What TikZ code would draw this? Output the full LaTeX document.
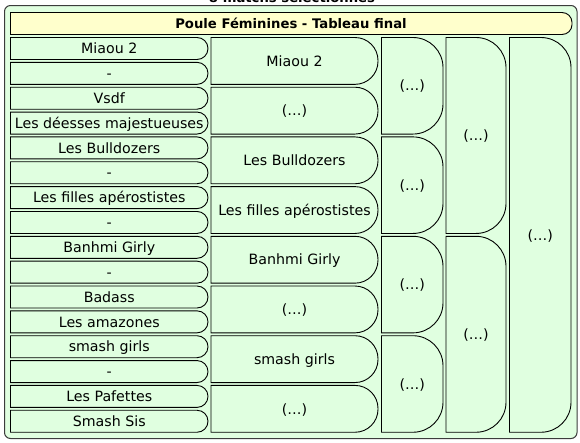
\documentclass[tikz,border=0pt]{standalone}
\usepackage{fontspec}
\setmainfont{DejaVu Sans}
\definecolor{boxgreen}{RGB}{224,255,224}
\definecolor{headyellow}{RGB}{255,255,204}
\definecolor{framegray}{RGB}{60,60,60}
\tikzset{
  boxline/.style={draw=black,line width=0.9pt,fill=boxgreen},
  headline/.style={draw=black,line width=0.9pt,fill=headyellow},
  lbl/.style={inner sep=0pt,anchor=base,font=\fontsize{14.2}{17}\selectfont,text=black},
  hlbl/.style={inner sep=0pt,anchor=base,font=\fontsize{13.2}{16}\selectfont\bfseries,text=black},
}
% #1 name, #2 x1, #3 y1, #4 x2, #5 y2, #6 radius, #7 style, #8 text
\newcommand\rbox[8]{%
  \draw[#7] (#2,#3) -- ({#4-#6},#3) arc[start angle=90,end angle=0,radius=#6pt]
    -- (#4,{#5-#6}) arc[start angle=0,end angle=-90,radius=#6pt] -- (#2,#5) -- cycle;
  \node[lbl] (#1) at ({(#2+#4)/2},{(#3+#5)/2+5.2}) {#8};
}
\begin{document}
\begin{tikzpicture}[x=1pt,y=-1pt]
\useasboundingbox (0,0) rectangle (580,442);
\fill[white] (0,0) rectangle (580,442);
% title, mostly cut off as in the reference
\node[hlbl] (title) at (292,2.5) {8 matchs sélectionnés};
% outer frame
\draw[draw=framegray,line width=1pt,fill=boxgreen,rounded corners=6pt] (4.5,5.5) rectangle (577,438.5);
% header
\draw[headline] (10.5,12.5) -- (562,12.5) arc[start angle=90,end angle=0,radius=10pt]
  -- (572,24.5) arc[start angle=0,end angle=-90,radius=10pt] -- (10.5,34.5) -- cycle;
\node[hlbl] (head) at (291,28.4) {Poule Féminines - Tableau final};
% column 1
\foreach \t [count=\i from 0] in {Miaou 2,-,Vsdf,Les déesses majestueuses,Les Bulldozers,-,Les filles apérostistes,-,Banhmi Girly,-,Badass,Les amazones,smash girls,-,Les Pafettes,Smash Sis}{
  \pgfmathsetmacro\ya{37.5+24.85*\i}
  \pgfmathsetmacro\yb{\ya+22}
  \rbox{a\i}{10.5}{\ya}{208}{\yb}{11}{boxline}{\t}
}
% column 2
\foreach \t [count=\i from 0] in {Miaou 2,(…),Les Bulldozers,Les filles apérostistes,Banhmi Girly,(…),smash girls,(…)}{
  \pgfmathsetmacro\ya{37.5+49.7*\i}
  \pgfmathsetmacro\yb{\ya+46.85}
  \rbox{b\i}{211}{\ya}{378}{\yb}{23}{boxline}{\t}
}
% column 3
\foreach \i in {0,...,3}{
  \pgfmathsetmacro\ya{37.5+99.4*\i}
  \pgfmathsetmacro\yb{\ya+96.55}
  \rbox{c\i}{381.5}{\ya}{443}{\yb}{30}{boxline}{(…)}
}
% column 4
\foreach \i in {0,1}{
  \pgfmathsetmacro\ya{37.5+198.8*\i}
  \pgfmathsetmacro\yb{\ya+195.95}
  \rbox{d\i}{446}{\ya}{506}{\yb}{30}{boxline}{(…)}
}
% column 5
\rbox{e0}{509.5}{37.5}{571}{432.25}{30}{boxline}{(…)}
\end{tikzpicture}
\end{document}
